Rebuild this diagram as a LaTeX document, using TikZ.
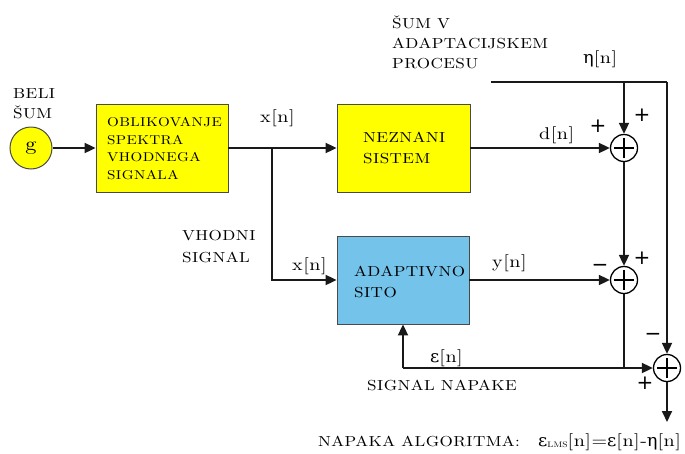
\documentclass[tikz,border=0pt]{standalone}
\usepackage{fontspec}
\newfontfamily\grk{DejaVu Serif}[FakeStretch=1.05]
\newfontfamily\sgn{DejaVu Sans}
\newfontfamily\lab{lmroman10-regular}[Extension=.otf, FakeStretch=1.18, LetterSpace=3]
\usetikzlibrary{arrows.meta}
\definecolor{yfill}{HTML}{FFFF00}
\definecolor{bfill}{HTML}{73C3EB}
\definecolor{edge}{HTML}{4A4A4A}
\newcommand\gk[1]{{\grk #1}}
\tikzset{
  lbl/.style={font=\lab\fontsize{14.5}{20}\selectfont, anchor=base west, inner sep=0},
  small/.style={font=\lab\fontsize{12.8}{17}\selectfont, anchor=base west, inner sep=0},
  sig/.style={font=\lab\fontsize{17}{17}\selectfont, anchor=base west, inner sep=0},
  pm/.style={font=\sgn\fontsize{20}{20}\selectfont, inner sep=0},
  blk/.style={draw=edge, line width=0.8pt, minimum width=132pt, minimum height=88pt, inner sep=0},
  wire/.style={line width=1.8pt, black!90},
  arr/.style={wire, -{Triangle[length=11pt,width=10pt]}},
  sumnode/.style={circle, draw, line width=1.3pt, minimum size=27pt, inner sep=0, fill=white,
    path picture={\draw[line width=1.3pt] (path picture bounding box.center) +(-10pt,0) -- +(10pt,0) +(0,-10pt) -- +(0,10pt);}}
}
\begin{document}
\begin{tikzpicture}[x=1pt,y=-1pt]
\useasboundingbox (0,0) rectangle (685,453);

% blocks
\node[circle, draw=edge, line width=1pt, fill=yfill, minimum size=42pt, inner sep=0, font=\lab\fontsize{19}{19}\selectfont] (g) at (31,148) {g};
\node[blk, fill=yfill] (b1) at (162,148) {};
\node[blk, fill=yfill, minimum width=133pt] (ns) at (403.5,148) {};
\node[blk, fill=bfill] (af) at (403,280) {};
\node[sumnode] (s1) at (624,148) {};
\node[sumnode] (s2) at (624,280) {};
\node[sumnode] (s3) at (667,368) {};

% block texts
\node[small] (t1a) at (107,126.5) {OBLIKOVANJE};
\node[small] (t1b) at (107,144) {SPEKTRA};
\node[small] (t1c) at (107,161.5) {VHODNEGA};
\node[small] (t1d) at (107,179) {SIGNALA};
\node[lbl] (t2a) at (363,142) {NEZNANI};
\node[lbl] (t2b) at (363,163) {SISTEM};
\node[lbl] (t3a) at (354,276) {ADAPTIVNO};
\node[lbl] (t3b) at (354,297) {SITO};

% free labels
\node[lbl] (l1a) at (13,98) {BELI};
\node[lbl] (l1b) at (13,118) {ŠUM};
\node[lbl] (l2a) at (392,28) {ŠUM V};
\node[lbl] (l2b) at (392,48) {ADAPTACIJSKEM};
\node[lbl] (l2c) at (392,68) {PROCESU};
\node[lbl] (l3a) at (182,240) {VHODNI};
\node[lbl] (l3b) at (182,262) {SIGNAL};
\node[lbl] (l4) at (367,390) {SIGNAL NAPAKE};
\node[lbl] (l5) at (318,446) {NAPAKA ALGORITMA:};
\node[sig] (l6) at (538,446) {\gk{ε}\raisebox{-1.5pt}{\fontsize{8}{8}\selectfont LMS}[n]=\gk{ε}[n]-\gk{η}[n]};

% signal labels
\node[sig] (xa) at (260,122) {x[n]};
\node[sig] (xb) at (292,270) {x[n]};
\node[sig] (dn) at (539,139) {d[n]};
\node[sig] (yn) at (492,267) {y[n]};
\node[sig] (en) at (430,362) {\gk{ε}[n]};
\node[sig] (hn) at (583,63) {\gk{η}[n]};

% signs
\node[pm] (p1) at (598,126) {+};
\node[pm] (p2) at (642,115) {+};
\node[pm] (p3) at (600,268) {−};
\node[pm] (p4) at (642,258) {+};
\node[pm] (p5) at (653,337) {−};
\node[pm] (p6) at (645,383) {+};

% coordinates
\coordinate (j1) at (272,148);
\coordinate (e0) at (491,82);
\coordinate (ej) at (624,82);
\coordinate (er) at (667,82);
\coordinate (j2) at (624,368);
\coordinate (k0) at (403,368);
\coordinate (out) at (667,422);

% connectors
\draw[arr] (g) -- (b1);
\draw[arr] (b1.east) -- (ns.west);
\draw[arr] (j1) |- (af.west);
\draw[arr] (ns.east) -- (s1.west);
\draw[wire] (e0) -- (er);
\draw[arr] (er) -- (s3.north);
\draw[arr] (ej) -- (s1.north);
\draw[arr] (s1.south) -- (s2.north);
\draw[arr] (af.east) -- (s2.west);
\draw[wire] (s2.south) -- (j2);
\draw[arr] (k0) -- (s3.west);
\draw[arr] (k0) -- (af.south);
\draw[arr] (s3.south) -- (out);
\end{tikzpicture}
\end{document}
